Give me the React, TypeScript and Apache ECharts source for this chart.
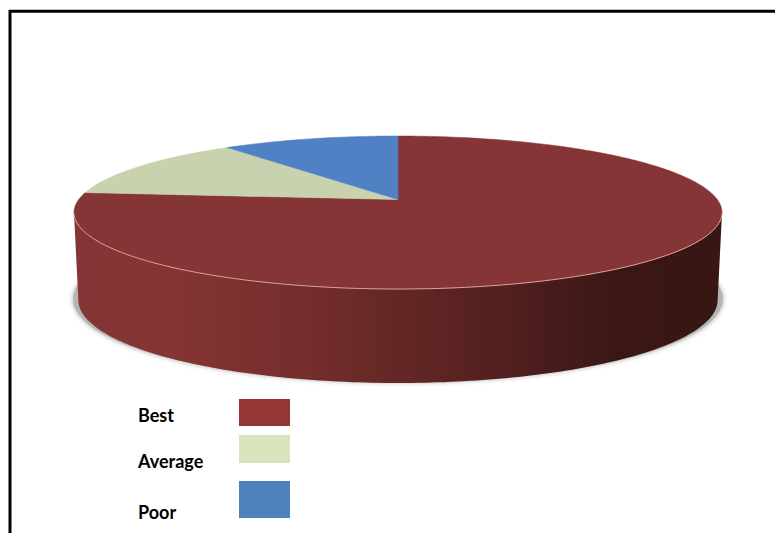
import React, { useEffect, useRef } from "react";
import * as echarts from "echarts";

const categories = ["Best", "Average", "Poor"];
const shares = [76.5, 13.1, 10.4];
const topColors = ["#853535", "#C8D2AE", "#4F81C4"];
const legendColors = ["#943634", "#D7E4BC", "#4F81BD"];
const legendBoxes = [
  [239, 399, 51, 27],
  [239, 435, 51, 28],
  [239, 481, 51, 37],
];
const legendTextY = [415, 461, 512];

const total = shares.reduce((a, b) => a + b, 0);
const K = 0.17;
const topFace = { cx: 398, cy: 199.5, a: 319.3, b: 74.3 };
const baseFace = { cx: 398, cy: 285.9, a: 315, b: 80.6 };
const shadowFace = { cx: 398, cy: 285, a: 320, b: 80.8 };
const FRONT_FROM = 100;
const FRONT_TO = 260;

type Face = { cx: number; cy: number; a: number; b: number };

function project(f: Face, deg: number): number[] {
  const t = (deg * Math.PI) / 180;
  const u = Math.sin(t);
  const v = Math.cos(t);
  const d = 1 + K * v;
  return [f.cx + (f.a * u) / d, f.cy - (f.b * v) / d];
}

function arc(f: Face, from: number, to: number): number[][] {
  const n = Math.max(2, Math.ceil(Math.abs(to - from)));
  const pts: number[][] = [];
  for (let i = 0; i <= n; i++) pts.push(project(f, from + ((to - from) * i) / n));
  return pts;
}

const wallFill = new echarts.graphic.LinearGradient(
  74, 0, 722, 0,
  [
    { offset: 0, color: "#853535" },
    { offset: 0.15, color: "#843433" },
    { offset: 0.35, color: "#752E2C" },
    { offset: 0.5, color: "#642725" },
    { offset: 0.66, color: "#52201F" },
    { offset: 0.84, color: "#3A1715" },
    { offset: 1, color: "#381614" },
  ],
  true as any
);

function renderSlice(params: any, api: any) {
  const i = params.dataIndex;
  const value = api.value(0);
  let before = 0;
  for (let k = 0; k < i; k++) before += shares[k];
  const start = (before / total) * 360;
  const end = ((before + value) / total) * 360;
  const children: any[] = [];

  if (i === 0) {
    children.push({
      type: "polygon",
      shape: { points: arc(shadowFace, 0, 360) },
      style: { fill: "#b4b4b4", shadowBlur: 5, shadowColor: "#a0a0a0" },
    });
  }

  const from = Math.max(start, FRONT_FROM);
  const to = Math.min(end, FRONT_TO);
  if (to > from) {
    const upper = arc(topFace, from, to);
    const lower = arc(baseFace, from, to);
    children.push({
      type: "polygon",
      shape: { points: upper.concat(lower.reverse()) },
      style: { fill: wallFill },
    });
  }

  children.push({
    type: "polygon",
    shape: { points: [[topFace.cx, topFace.cy] as number[]].concat(arc(topFace, start, end)) },
    style: { fill: topColors[i], stroke: topColors[i], lineWidth: 0.5 },
  });

  if (to > from) {
    children.push({
      type: "polyline",
      shape: { points: arc(topFace, from, to) },
      style: { fill: "none", stroke: "#D9A09B", lineWidth: 1 },
    });
  }
  return { type: "group", children };
}

export default function App() {
  const ref = useRef<HTMLDivElement>(null);
  useEffect(() => {
    const chart = echarts.init(ref.current!, null, { renderer: "svg" });
    chart.setOption({
      animation: false,
      backgroundColor: "#ffffff",
      series: [
        {
          type: "custom",
          coordinateSystem: "none",
          silent: true,
          clip: false,
          data: shares.map((v, i) => ({ name: categories[i], value: [v] })),
          renderItem: renderSlice,
        },
      ],
      graphic: [
        { type: "line", shape: { x1: 9, y1: 11.3, x2: 775, y2: 11.3 }, style: { stroke: "#000", lineWidth: 3 } },
        { type: "line", shape: { x1: 10, y1: 10, x2: 10, y2: 533 }, style: { stroke: "#000", lineWidth: 3 } },
        ...categories.flatMap((name, i) => [
          {
            type: "rect",
            shape: { x: legendBoxes[i][0], y: legendBoxes[i][1], width: legendBoxes[i][2], height: legendBoxes[i][3] },
            style: { fill: legendColors[i] },
          },
          {
            type: "text",
            x: 138,
            y: legendTextY[i],
            style: {
              text: name,
              fill: "#000",
              font: 'bold 18px Lato, "Open Sans", sans-serif',
              textAlign: "left",
              textVerticalAlign: "middle",
            },
          },
        ]),
      ],
    });
    return () => chart.dispose();
  }, []);
  return <div ref={ref} style={{ position: "fixed", left: 0, top: 0, width: 775, height: 533 }} />;
}
